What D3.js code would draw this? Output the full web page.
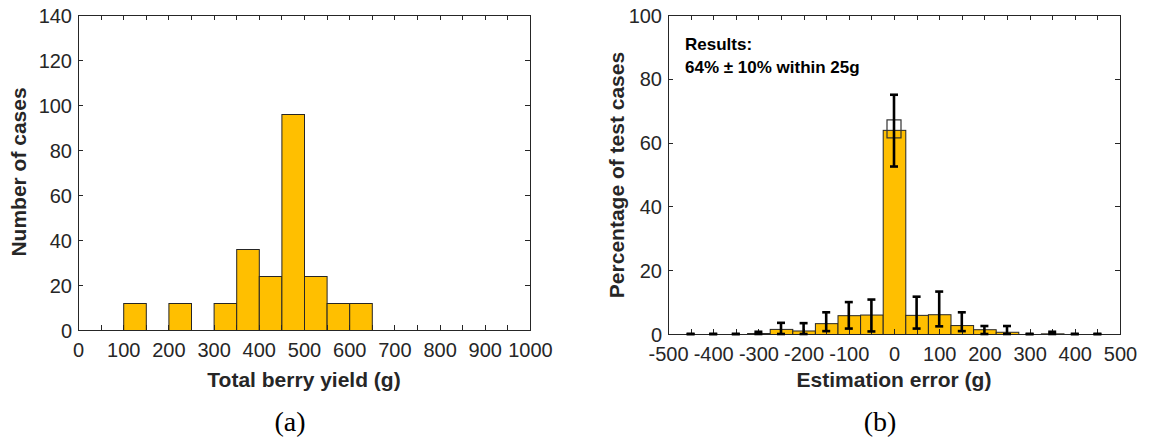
<!DOCTYPE html>
<html>
<head>
<meta charset="utf-8">
<script src="https://cdn.jsdelivr.net/npm/d3@7"></script>
<style>
  body { margin: 0; background: #fff; }
  svg { display: block; }
  .tick text { font-family: "Liberation Sans", Arial, sans-serif; font-size: 20px; fill: #262626; }
  .title { font-family: "Liberation Sans", Arial, sans-serif; font-size: 21px; font-weight: bold; fill: #262626; }
  .note { font-family: "Liberation Sans", Arial, sans-serif; font-size: 17px; font-weight: bold; fill: #000; }
  .cap { font-family: "Liberation Serif", "DejaVu Serif", serif; font-size: 28px; fill: #000; }
</style>
</head>
<body>
<script>
// (a) histogram of total berry yield, 50 g bins
const yieldBinStart = [100, 200, 300, 350, 400, 450, 500, 550, 600];
const yieldCounts   = [12, 12, 12, 36, 24, 96, 24, 12, 12];
const yieldBinWidth = 50;
const yieldXTicks = [0, 100, 200, 300, 400, 500, 600, 700, 800, 900, 1000];
const yieldYTicks = [0, 20, 40, 60, 80, 100, 120, 140];

// (b) estimation error distribution, bins centred every 50 g
const errCenters = [-450, -400, -350, -300, -250, -200, -150, -100, -50, 0, 50, 100, 150, 200, 250, 300, 350, 400, 450];
const errPercent = [0, 0, 0, 0.3, 1.6, 1.1, 3.4, 5.9, 6.1, 64, 6.0, 6.2, 2.8, 1.5, 0.7, 0, 0.2, 0, 0];
const errLow     = [0, 0, 0, 0, 0, 0, 0.9, 1.7, 0.8, 52.5, 1.7, 2.4, 0.9, 0, 0, 0, 0, 0, 0];
const errHigh    = [0, 0, 0, 0.7, 3.5, 3.4, 6.8, 10.0, 10.8, 75, 11.7, 13.3, 6.8, 2.5, 2.5, 0, 0.7, 0, 0];
const errBinWidth = 50;
const errXTicks = [-500, -400, -300, -200, -100, 0, 100, 200, 300, 400, 500];
const errYTicks = [0, 20, 40, 60, 80, 100];
const meanWithin25 = 64.3;

const W = 1151, H = 440;
const barFill = "#FFBF00";
const ink = "#262626";

const svg = d3.select("body").append("svg").attr("width", W).attr("height", H);

function frame(g, x, y, xTicks, minorStep, yTicks) {
  const [x0, x1] = x.range();
  const [y0, y1] = y.range();
  const minor = d3.range(x.domain()[0], x.domain()[1] + 1e-9, minorStep);
  const tl = 5;
  const bottom = g.append("g").attr("transform", `translate(0,${y0})`)
    .call(d3.axisBottom(x).tickValues(xTicks).tickSize(0).tickPadding(13).tickFormat(String));
  bottom.select(".domain").remove();
  const left = g.append("g").attr("transform", `translate(${x0},0)`)
    .call(d3.axisLeft(y).tickValues(yTicks).tickSize(0).tickPadding(6).tickFormat(String));
  left.select(".domain").remove();
  left.selectAll(".tick text").attr("dy", "0.35em");

  const tg = g.append("g").attr("stroke", ink).attr("stroke-width", 1);
  minor.forEach(v => {
    const px = Math.round(x(v)) + 0.5;
    tg.append("line").attr("x1", px).attr("x2", px).attr("y1", y0).attr("y2", y0 - tl);
    tg.append("line").attr("x1", px).attr("x2", px).attr("y1", y1).attr("y2", y1 + tl);
  });
  yTicks.forEach(v => {
    const py = Math.round(y(v)) + 0.5;
    tg.append("line").attr("x1", x0).attr("x2", x0 + tl).attr("y1", py).attr("y2", py);
    tg.append("line").attr("x1", x1).attr("x2", x1 - tl).attr("y1", py).attr("y2", py);
  });
}

function box(g, x, y) {
  const [x0, x1] = x.range();
  const [y0, y1] = y.range();
  g.append("rect").attr("x", x0 + 0.5).attr("y", y1 + 0.5)
    .attr("width", x1 - x0).attr("height", y0 - y1)
    .attr("fill", "none").attr("stroke", ink).attr("stroke-width", 1);
}

// ---------- panel (a) ----------
{
  const g = svg.append("g");
  const x = d3.scaleLinear().domain([0, 1000]).range([78, 530]);
  const y = d3.scaleLinear().domain([0, 140]).range([330, 15]);

  g.append("g").selectAll("rect").data(yieldBinStart).join("rect")
    .attr("x", (d) => x(d) + 0.5)
    .attr("width", x(yieldBinWidth) - x(0))
    .attr("y", (d, i) => y(yieldCounts[i]) + 0.5)
    .attr("height", (d, i) => y(0) - y(yieldCounts[i]))
    .attr("fill", barFill).attr("stroke", ink).attr("stroke-width", 1);

  frame(g, x, y, yieldXTicks, 50, yieldYTicks);
  box(g, x, y);

  g.append("text").attr("class", "title").attr("x", (x.range()[0] + x.range()[1]) / 2).attr("y", 387)
    .attr("text-anchor", "middle").text("Total berry yield (g)");
  g.append("text").attr("class", "title").attr("transform", "translate(26,172) rotate(-90)")
    .attr("text-anchor", "middle").text("Number of cases");
  g.append("text").attr("class", "cap").attr("x", 290).attr("y", 431)
    .attr("text-anchor", "middle").text("(a)");
}

// ---------- panel (b) ----------
{
  const g = svg.append("g");
  const x = d3.scaleLinear().domain([-500, 500]).range([668, 1120]);
  const y = d3.scaleLinear().domain([0, 100]).range([334, 15]);
  const bw = x(errBinWidth) - x(0);

  g.append("g").selectAll("rect").data(errCenters).join("rect")
    .attr("x", (d) => x(d) - bw / 2 + 0.5)
    .attr("width", bw)
    .attr("y", (d, i) => y(errPercent[i]) + 0.5)
    .attr("height", (d, i) => y(0) - y(errPercent[i]))
    .attr("fill", barFill).attr("stroke", ink).attr("stroke-width", 1);

  frame(g, x, y, errXTicks, 50, errYTicks);
  box(g, x, y);

  // marker for the mean share within 25 g
  g.append("rect")
    .attr("x", x(0) - 7).attr("y", y(meanWithin25) - 9)
    .attr("width", 14).attr("height", 18)
    .attr("fill", "none").attr("stroke", "#333").attr("stroke-width", 1.2);

  // error bars
  const eb = g.append("g").attr("stroke", "#000").attr("stroke-width", 2.6);
  const cw = 4;
  errCenters.forEach((c, i) => {
    const px = x(c);
    const lo = y(Math.max(0, errLow[i]));
    const hi = y(errHigh[i]);
    eb.append("line").attr("x1", px).attr("x2", px).attr("y1", lo).attr("y2", hi);
    eb.append("line").attr("x1", px - cw).attr("x2", px + cw).attr("y1", lo).attr("y2", lo);
    eb.append("line").attr("x1", px - cw).attr("x2", px + cw).attr("y1", hi).attr("y2", hi);
  });

  g.append("text").attr("class", "note").attr("x", 685).attr("y", 50).text("Results:");
  g.append("text").attr("class", "note").attr("x", 685).attr("y", 73).text("64% \u00B1 10% within 25g");

  g.append("text").attr("class", "title").attr("x", (x.range()[0] + x.range()[1]) / 2).attr("y", 387)
    .attr("text-anchor", "middle").text("Estimation error (g)");
  g.append("text").attr("class", "title").attr("transform", "translate(624,175) rotate(-90)")
    .attr("text-anchor", "middle").text("Percentage of test cases");
  g.append("text").attr("class", "cap").attr("x", 880).attr("y", 431)
    .attr("text-anchor", "middle").text("(b)");
}
</script>
</body>
</html>
